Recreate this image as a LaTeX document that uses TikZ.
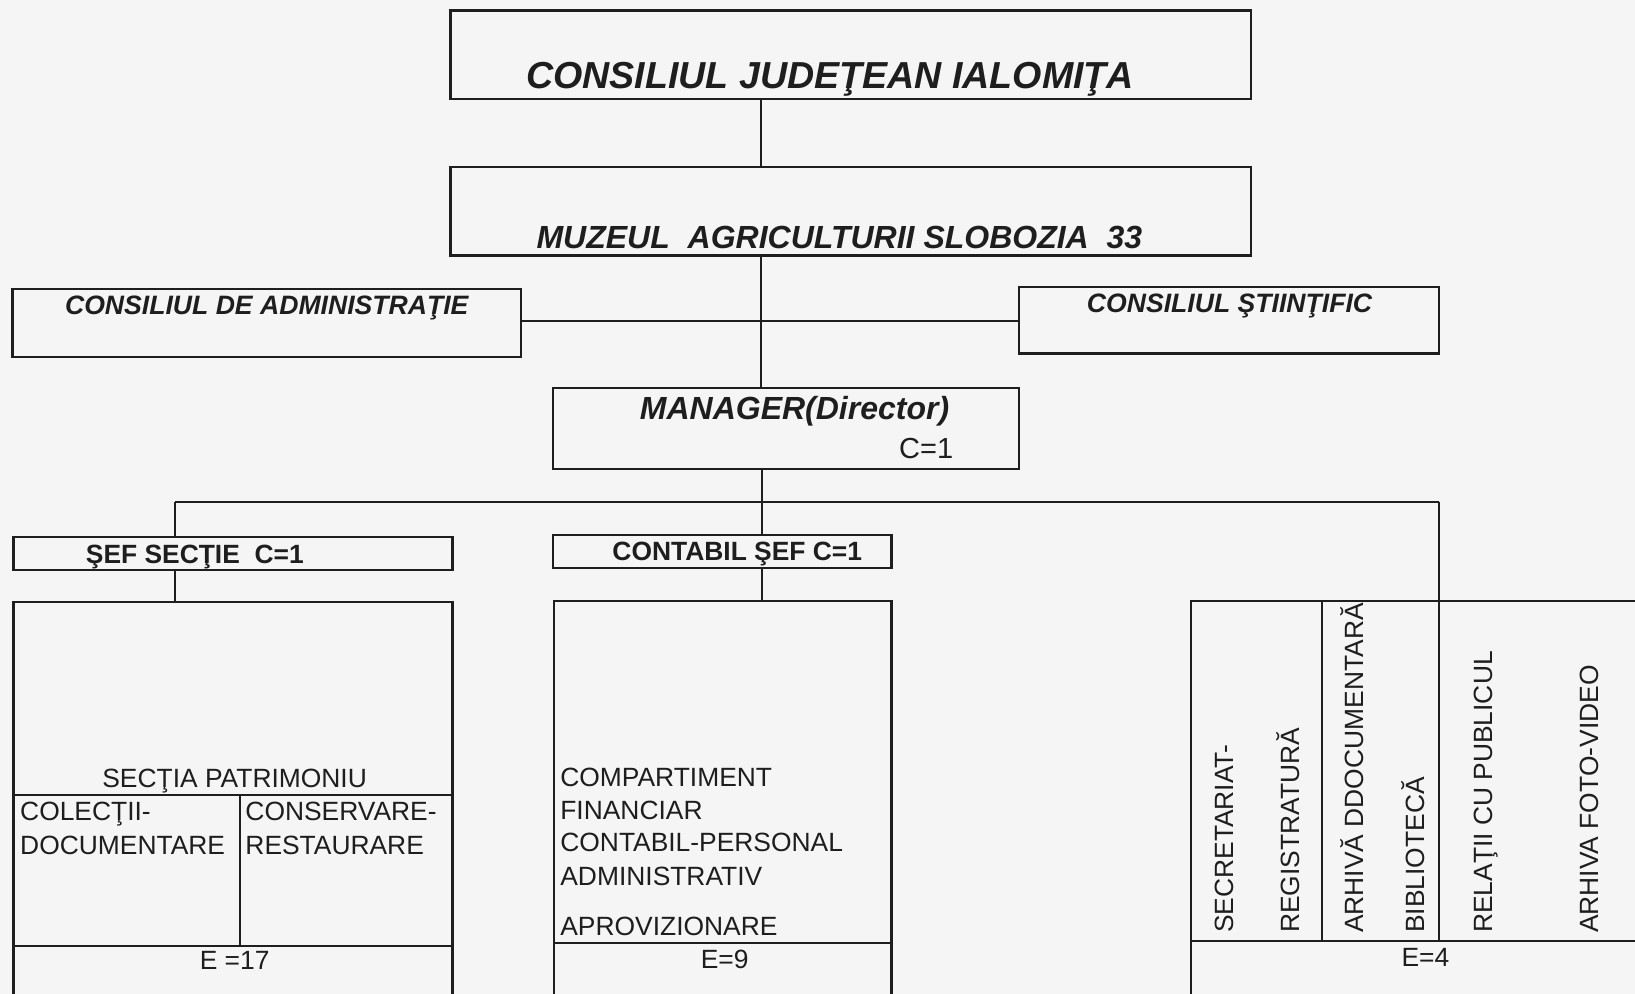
\documentclass[tikz,border=0pt]{standalone}
\usepackage{fontspec}
\setmainfont{Liberation Sans}
\usetikzlibrary{fit}

\definecolor{paper}{RGB}{245,245,245}
\definecolor{ink}{RGB}{30,30,30}

\tikzset{
  box/.style={draw=ink, line width=1.1pt, inner sep=0pt},
  conn/.style={draw=ink, line width=1pt},
  plain/.style={inner sep=0pt, text=ink, font=\fontsize{13.2}{16}\selectfont},
  bold/.style={inner sep=0pt, text=ink, font=\fontsize{13.2}{16}\selectfont\bfseries},
  headbig/.style={inner sep=0pt, text=ink, font=\fontsize{18.8}{22}\selectfont\bfseries\itshape},
  headmid/.style={inner sep=0pt, text=ink, font=\fontsize{16}{19}\selectfont\bfseries\itshape},
  headsm/.style={inner sep=0pt, text=ink, font=\fontsize{13.3}{16}\selectfont\bfseries\itshape}
}

\begin{document}
\begin{tikzpicture}[x=0.52135pt, y=-0.52135pt]
    \useasboundingbox[fill=paper] (0,0) rectangle (1568,953);
    \clip (0,0) rectangle (1568,953);

    % boxes
    \node[box, fit={(432,10) (1200,95)}] (judet) {};
    \node[box, fit={(432,160) (1200,245)}] (muzeu) {};
    \node[box, fit={(12,277) (500,342)}] (admin) {};
    \node[box, fit={(977,275) (1380,339)}] (stiint) {};
    \node[box, fit={(530,372) (977,450)}] (manager) {};
    \node[box, fit={(13,515) (434,547)}] (sefsectie) {};
    \node[box, fit={(530,513) (855,545)}] (contsef) {};
    \node[box, fit={(13,577) (434,1000)}] (patrim) {};
    \node[box, fit={(531,576) (855,1000)}] (contab) {};
    \node[box, fit={(1142,576) (1620,1000)}] (secret) {};

    % inner divisions
    \draw[conn] (13,762) -- (434,762);
    \draw[conn] (230,762) -- (230,907);
    \draw[conn] (13,907) -- (434,907);
    \draw[conn] (531,904) -- (855,904);
    \draw[conn] (1268,576) -- (1268,902);
    \draw[conn] (1380,576) -- (1380,902);
    \draw[conn] (1142,902) -- (1620,902);

    % connectors
    \coordinate (axis) at (730,308);
    \coordinate (busL) at (168,481);
    \coordinate (busM) at (731,481);
    \coordinate (busR) at (1380,481);
    \draw[conn] (judet.south -| axis) -- (muzeu.north -| axis);
    \draw[conn] (muzeu.south -| axis) -- (manager.north -| axis);
    \draw[conn] (admin.east |- axis) -- (stiint.west |- axis);
    \draw[conn] (manager.south -| busM) -- (busM);
    \draw[conn] (busL) -- (busR);
    \draw[conn] (busL) -- (sefsectie.north -| busL);
    \draw[conn] (busM) -- (contsef.north -| busM);
    \draw[conn] (busR) -- (secret.north -| busR);
    \draw[conn] (sefsectie.south -| busL) -- (patrim.north -| busL);
    \draw[conn] (contsef.south -| busM) -- (contab.north -| busM);

    % labels
    \node[headbig, anchor=base] (judett) at (796,85) {CONSILIUL JUDEŢEAN IALOMIŢA};
    \node[headmid, anchor=base] (muzeut) at (805,238) {MUZEUL\ \ AGRICULTURII SLOBOZIA\ \ 33};
    \node[headsm, anchor=base west] (admint) at (62,302) {CONSILIUL DE ADMINISTRAŢIE};
    \node[headsm, anchor=base west] (stiintt) at (1042,300) {CONSILIUL ŞTIINŢIFIC};
    \node[headmid, anchor=base] (managert) at (762,402) {MANAGER(Director)};
    \node[plain, font=\fontsize{14.5}{17}\selectfont, anchor=base west] (managerc) at (862,440) {C=1};
    \node[bold, anchor=base west] (sefsectiet) at (82,540) {ŞEF SECŢIE\ \ C=1};
    \node[bold, anchor=base west] (contseft) at (587,538) {CONTABIL ŞEF C=1};

    \node[plain, anchor=base] (patrimt) at (225,755) {SECŢIA PATRIMONIU};
    \node[plain, anchor=base west] (colectii) at (19,787) {COLECŢII-};
    \node[plain, anchor=base west] (colectii2) at (19,819) {DOCUMENTARE};
    \node[plain, anchor=base west] (conserv) at (235,787) {CONSERVARE-};
    \node[plain, anchor=base west] (conserv2) at (235,819) {RESTAURARE};
    \node[plain, anchor=base] (patrimE) at (225,930) {E =17};

    \node[plain, anchor=base west] (comp1) at (537,754) {COMPARTIMENT};
    \node[plain, anchor=base west] (comp2) at (537,786) {FINANCIAR};
    \node[plain, anchor=base west] (comp3) at (537,817) {CONTABIL-PERSONAL};
    \node[plain, anchor=base west] (comp4) at (537,849) {ADMINISTRATIV};
    \node[plain, anchor=base west] (comp5) at (537,897) {APROVIZIONARE};
    \node[plain, anchor=base] (contabE) at (695,929) {E=9};

    \node[plain, rotate=90, anchor=base west] (secr) at (1183,895) {SECRETARIAT-};
    \node[plain, rotate=90, anchor=base west] (regis) at (1246,895) {REGISTRATURĂ};
    \node[plain, rotate=90, anchor=base west] (arhdoc) at (1308,895) {ARHIVĂ DDOCUMENTARĂ};
    \node[plain, rotate=90, anchor=base west] (biblio) at (1366,895) {BIBLIOTECĂ};
    \node[plain, rotate=90, anchor=base west] (relatii) at (1431,895) {RELAŢII CU PUBLICUL};
    \node[plain, rotate=90, anchor=base west] (foto) at (1533,895) {ARHIVA FOTO-VIDEO};
    \node[plain, anchor=base] (secretE) at (1367,927) {E=4};
\end{tikzpicture}
\end{document}
